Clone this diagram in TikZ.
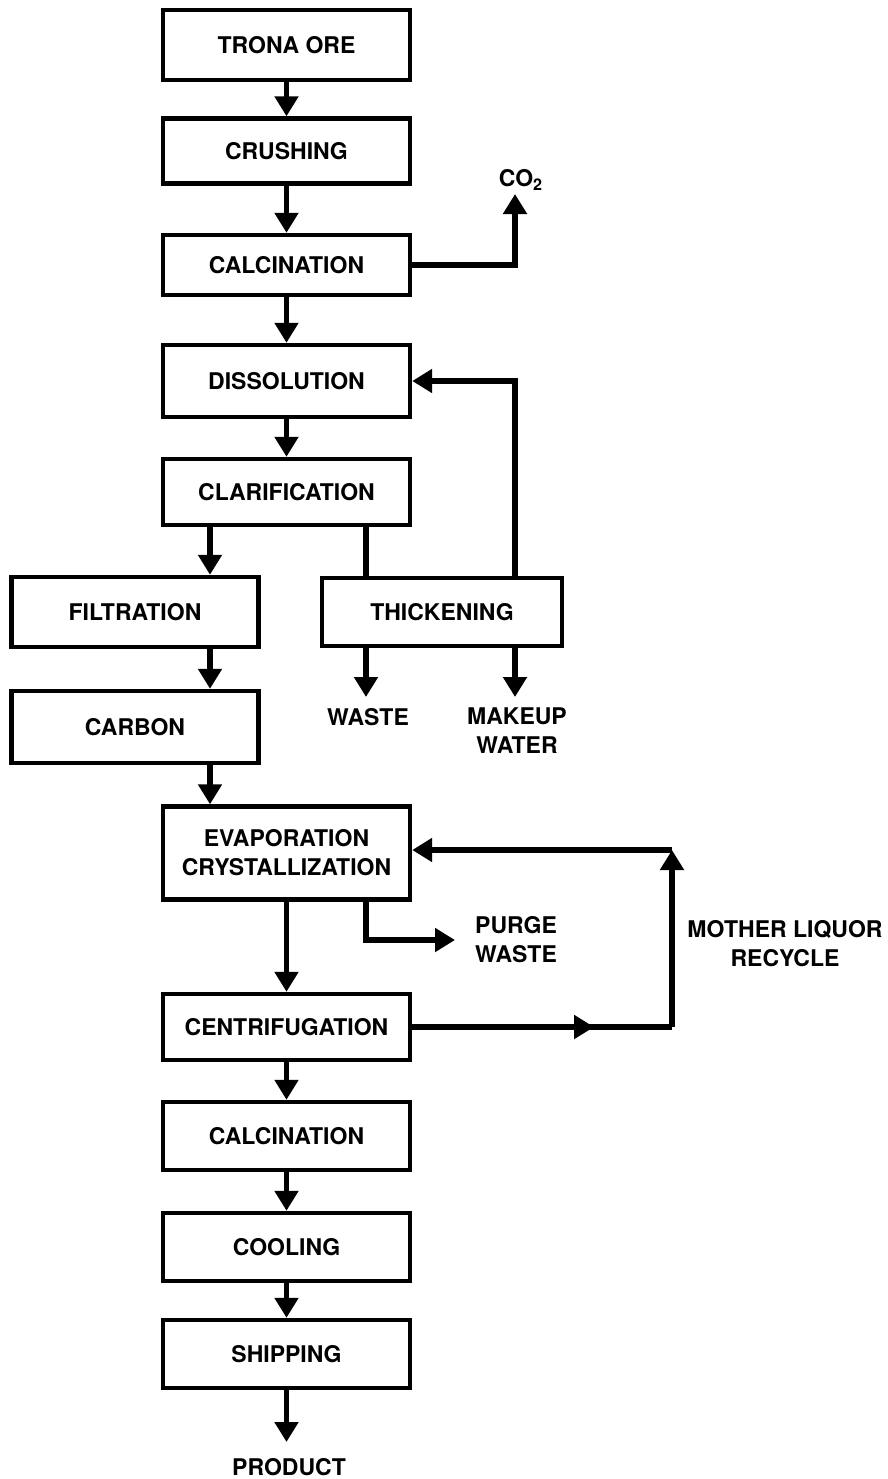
\documentclass[tikz,border=0pt]{standalone}
\usepackage{fontspec}
\setmainfont{TeX Gyre Heros}
\usetikzlibrary{arrows.meta, calc, decorations.markings}

\begin{document}
\begin{tikzpicture}[x=0.5pt, y=-0.5pt,
	every node/.style={font=\fontsize{11.5}{14.5}\selectfont\bfseries, align=center},
	box/.style={draw, line width=2.2pt, minimum width=123.5pt, minimum height=33pt, inner sep=0pt},
	flow/.style={line width=2.8pt, -{Triangle[length=10pt, width=11.5pt]}},
	pipe/.style={line width=2.8pt},
	midtip/.style={postaction={decorate}, decoration={markings,
		mark=at position #1 with {\arrow{Triangle[length=10pt, width=11.5pt]}}}}]
	\useasboundingbox (0,0) rectangle (888,1479);
	% main column
	\node[box, minimum height=35pt] (ore)   at (286.5,45)   {TRONA ORE};
	\node[box, minimum height=32.5pt] (crush) at (286.5,151) {CRUSHING};
	\node[box, minimum height=30pt] (calc)  at (286.5,265)  {CALCINATION};
	\node[box, minimum height=36pt] (diss)  at (286.5,381)  {DISSOLUTION};
	\node[box] (clar)  at (286.5,492)  {CLARIFICATION};
	\node[box, minimum height=35pt] (filt)  at (135,612)    {FILTRATION};
	\node[box, minimum width=120pt, minimum height=34pt] (thick) at (442,612) {THICKENING};
	\node[box, minimum height=36pt] (carb)  at (135,727)    {CARBON};
	\node[box, minimum height=46.5pt] (evap) at (286.5,853) {EVAPORATION\\CRYSTALLIZATION};
	\node[box] (centr) at (286.5,1027) {CENTRIFUGATION};
	\node[box, minimum height=34pt] (calcb) at (286.5,1136) {CALCINATION};
	\node[box, minimum height=34pt] (cool)  at (286.5,1247) {COOLING};
	\node[box, minimum height=34pt] (ship)  at (286.5,1354) {SHIPPING};
	% outlets
	\node (co2)   at (521,180)  {CO\textsubscript{2}};
	\node (waste) at (368,717)  {WASTE};
	\node (makeup) at (517,731) {MAKEUP\\WATER};
	\node (purge) at (516,940)  {PURGE\\WASTE};
	\node (mlr)   at (785,944)  {MOTHER LIQUOR\\RECYCLE};
	\node (prod)  at (289,1467) {PRODUCT};
	\coordinate (lx) at (210,0);
	\coordinate (wx) at (366,0);
	\coordinate (mx) at (515,0);
	\coordinate (cend) at (515,194);
	\coordinate (wend) at (366,697);
	\coordinate (mend) at (515,697);
	\coordinate (pend) at (455,940);
	\coordinate (lb) at (672,1027);
	\coordinate (lt) at (672,850);
	\coordinate (prend) at (286.5,1442);
	% connectors
	\draw[flow] (ore) -- (crush);
	\draw[flow] (crush) -- (calc);
	\draw[flow] (calc) -- (diss);
	\draw[flow] (diss) -- (clar);
	\draw[flow] (calc.east) -| (cend);
	\draw[flow] (clar.south -| lx) -- (filt.north -| lx);
	\draw[pipe] (clar.south -| wx) -- (thick.north -| wx);
	\draw[flow] (thick.north -| mx) |- (diss.east);
	\draw[flow] (thick.south -| wend) -- (wend);
	\draw[flow] (thick.south -| mend) -- (mend);
	\draw[flow] (filt.south -| lx) -- (carb.north -| lx);
	\draw[flow] (carb.south -| lx) -- (evap.north -| lx);
	\draw[flow] (evap.south -| wx) |- (pend);
	\draw[flow] (evap) -- (centr);
	\draw[pipe, midtip=0.70] (centr.east) -- (lb);
	\draw[flow] (lb) -- (lt);
	\draw[flow] (lt) -- (evap.east |- lt);
	\draw[flow] (centr) -- (calcb);
	\draw[flow] (calcb) -- (cool);
	\draw[flow] (cool) -- (ship);
	\draw[flow] (ship) -- (prend);
\end{tikzpicture}
\end{document}
